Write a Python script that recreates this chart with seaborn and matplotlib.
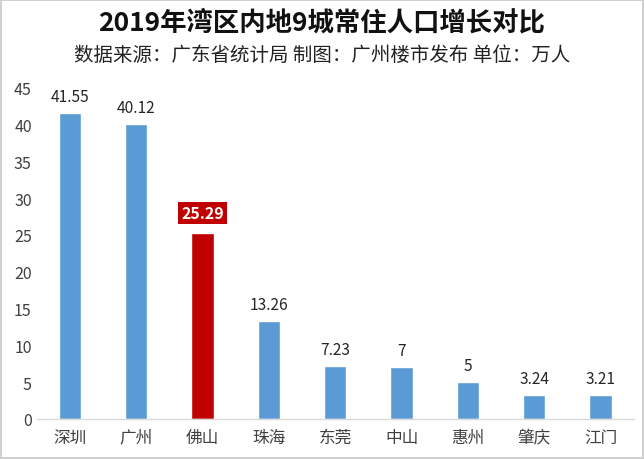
import matplotlib
matplotlib.use("Agg")
import matplotlib.pyplot as plt
import seaborn as sns

# 数据
cities = ["深圳", "广州", "佛山", "珠海", "东莞", "中山", "惠州", "肇庆", "江门"]
growth = [41.55, 40.12, 25.29, 13.26, 7.23, 7, 5, 3.24, 3.21]
value_labels = ["41.55", "40.12", "25.29", "13.26", "7.23", "7", "5", "3.24", "3.21"]
highlight = "佛山"

blue = "#5B9BD5"
red = "#C00000"
colors = [red if c == highlight else blue for c in cities]

sns.set_theme(style="white")
plt.rcParams["font.family"] = ["Noto Sans CJK SC", "DejaVu Sans"]

fig = plt.figure(figsize=(6.44, 4.6), dpi=100)
fig.patch.set_edgecolor("#d0d0d0")
fig.patch.set_linewidth(1.5)
ax = fig.add_axes([0.057, 0.087, 0.927, 0.72])

sns.barplot(x=cities, y=growth, hue=cities, palette=colors, width=0.34,
            legend=False, saturation=1, ax=ax)

ax.set_ylim(0, 45)
ax.set_yticks(range(0, 46, 5))
ax.tick_params(axis="y", length=0, labelsize=11.5, colors="#404040")
ax.tick_params(axis="x", length=0, labelsize=12, colors="#404040", pad=7)
for s in ["left", "right", "top"]:
    ax.spines[s].set_visible(False)
ax.spines["bottom"].set_color("#d9d9d9")
ax.spines["bottom"].set_linewidth(1)

for i, (c, v, lab) in enumerate(zip(cities, growth, value_labels)):
    if c == highlight:
        ax.text(i, v + 1.6, lab, ha="center", va="bottom", fontsize=11.5,
                fontweight="bold", color="white",
                bbox=dict(boxstyle="square,pad=0.2", fc=red, ec="none"))
    else:
        ax.text(i, v + 1.1, lab, ha="center", va="bottom", fontsize=11.2,
                color="#262626")

fig.text(0.5, 0.95, "2019年湾区内地9城常住人口增长对比", ha="center", va="center",
         fontsize=19, fontweight="bold", color="#111111")
fig.text(0.5, 0.88, "数据来源：广东省统计局 制图：广州楼市发布 单位：万人", ha="center",
         va="center", fontsize=14, color="#222222")

fig.savefig("out.png", dpi=100)
